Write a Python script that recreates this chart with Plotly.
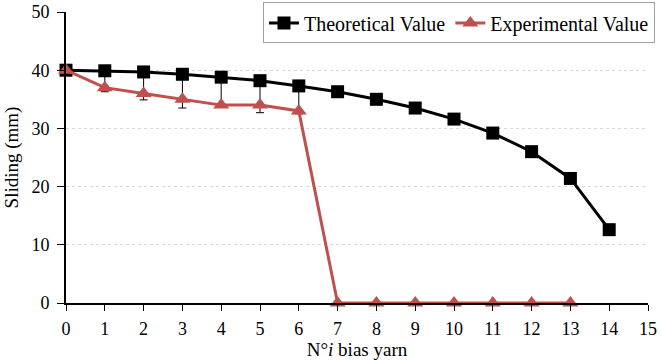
import plotly.graph_objects as go

# Bias yarn index
yarn_index = list(range(0, 15))
exp_index = list(range(0, 14))

# Sliding (mm)
theoretical = [40.0, 39.9, 39.7, 39.3, 38.8, 38.2, 37.3, 36.3, 35.0, 33.5, 31.6, 29.2, 26.0, 21.4, 12.6]
experimental = [40, 37, 36, 35, 34, 34, 33, 0, 0, 0, 0, 0, 0, 0]

# Lower spread shown below the theoretical curve for the first bias yarns
spread_low = [40.0, 36.3, 34.9, 33.5, 33.6, 32.7, 32.5, None, None, None, None, None, None, None, None]
err_minus = [t - l if l is not None else 0 for t, l in zip(theoretical, spread_low)]
err_plus = [0] * len(theoretical)

FONT = "Liberation Serif, Times New Roman, serif"
RED = "#C0504D"

fig = go.Figure()

fig.add_trace(go.Scatter(
    x=yarn_index, y=theoretical, name="Theoretical Value",
    mode="lines+markers",
    line=dict(color="black", width=3),
    marker=dict(symbol="square", size=13, color="black"),
    error_y=dict(type="data", symmetric=False, array=err_plus, arrayminus=err_minus,
                 color="black", thickness=1, width=4),
    cliponaxis=False,
))

fig.add_trace(go.Scatter(
    x=exp_index, y=experimental, name="Experimental Value",
    mode="lines+markers",
    line=dict(color=RED, width=3),
    marker=dict(symbol="triangle-up", size=14, color=RED),
    cliponaxis=False,
))

fig.update_layout(
    width=661, height=363,
    margin=dict(l=66, r=13, t=12, b=60, autoexpand=False),
    paper_bgcolor="white", plot_bgcolor="white",
    font=dict(family=FONT, size=18, color="black"),
    showlegend=True,
    legend=dict(
        orientation="h", x=1.012, y=1.033, xanchor="right", yanchor="top",
        bgcolor="white", bordercolor="#a0a0a0", borderwidth=1,
        font=dict(family=FONT, size=20, color="black"),
        itemwidth=30, tracegroupgap=0,
    ),
    xaxis=dict(
        range=[0, 15], tickmode="linear", tick0=0, dtick=1,
        showgrid=False, zeroline=False,
        showline=True, linecolor="black", linewidth=2,
        ticks="outside", ticklen=6, tickwidth=1, tickcolor="black",
        tickfont=dict(family=FONT, size=18), ticklabelstandoff=2,
        title=dict(text="N°<i>i</i> bias yarn", font=dict(family=FONT, size=19), standoff=2),
    ),
    yaxis=dict(
        range=[0, 50], tickmode="linear", tick0=0, dtick=10,
        showgrid=True, gridcolor="#d8d8d8", griddash="dot", gridwidth=1,
        zeroline=False,
        showline=True, linecolor="black", linewidth=2,
        ticks="outside", ticklen=7, tickwidth=1, tickcolor="black",
        tickfont=dict(family=FONT, size=18), ticklabelstandoff=4,
        title=dict(text="Sliding (mm)", font=dict(family=FONT, size=19), standoff=8),
    ),
)

fig.write_html("out.html")
